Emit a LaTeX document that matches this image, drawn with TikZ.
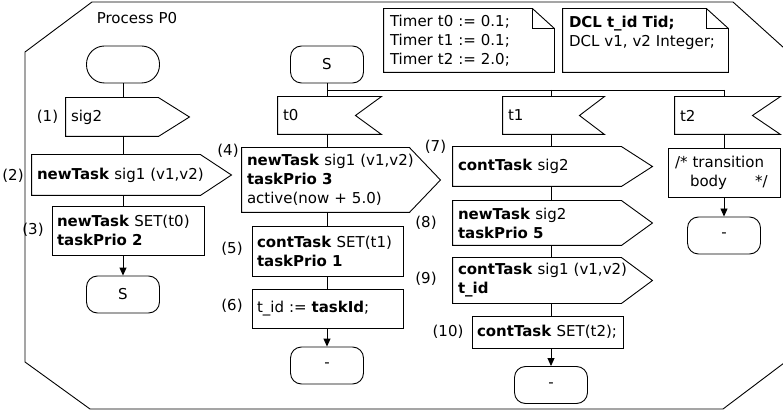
\documentclass[tikz,border=0pt]{standalone}
\usepackage{fontspec}
\setmainfont{DejaVu Sans}
\usetikzlibrary{arrows.meta,calc}
\begin{document}
\begin{tikzpicture}[x=1pt,y=-1pt, line width=0.9pt,
  base/.style={font=\fontsize{15}{19}\selectfont, inner sep=0pt},
  term/.style={base, draw, rounded corners=11pt, minimum width=73pt, minimum height=37pt},
  blk/.style={base, inner xsep=5pt, align=left},
  arr/.style={-{Triangle[length=8pt,width=7pt]}},
]
\useasboundingbox (0,0) rectangle (783,411);
% process frame
\draw (92,2) -- (733,2) -- (784,48) -- (784,363) -- (723,409) -- (90,409) -- (25,362) -- (25,52) -- cycle;
\node[base] (title) at (137,18) {Process P0};

% notes
\node[blk, inner xsep=6pt, text width=158pt, minimum height=63pt] (n1) at (469,40.5)
  {Timer t0 := 0.1;\\Timer t1 := 0.1;\\Timer t2 := 2.0;};
\node[blk, inner xsep=6pt, text width=153pt, minimum height=63pt] (n2) at (645.5,40.5)
  {\textbf{DCL t\_id Tid;}\\DCL v1, v2 Integer;\\\mbox{}};
\foreach \n in {n1,n2}{
  \draw (\n.north west) -- ([xshift=-22pt]\n.north east) -- ([yshift=-20pt]\n.north east) -- (\n.south east) -- (\n.south west) -- cycle;
  \draw ([xshift=-22pt]\n.north east) |- ([yshift=-20pt]\n.north east);
}

% column 1
\node[term, rounded corners=18pt] (st0) at (123,64.5) {};
\node[blk, text width=82pt, minimum height=38pt] (s1) at (112,117) {\mbox{sig2}};
\node[blk, text width=158pt, minimum height=40pt] (s2) at (116,175) {\mbox{\textbf{newTask} sig1 (v1,v2)}};
\node[blk, draw, text width=142pt, minimum height=49pt] (b3) at (128,230.5) {\mbox{\textbf{newTask} SET(t0)}\\\mbox{\textbf{taskPrio 2}}};
\node[term] (j1) at (123,294.5) {S};

% column 2
\node[term] (st1) at (327,64.5) {S};
\node[blk, text width=93pt, minimum height=37pt] (t0) at (329.5,115.5) {t0};
\node[blk, text width=157pt, minimum height=64pt] (s4) at (325.5,180) {\mbox{\textbf{newTask} sig1 (v1,v2)}\\\mbox{\textbf{taskPrio 3}}\\\mbox{active(now + 5.0)}};
\node[blk, draw, text width=141pt, minimum height=50pt] (b5) at (327.5,251) {\mbox{\textbf{contTask} SET(t1)}\\\mbox{\textbf{taskPrio 1}}};
\node[blk, draw, text width=141pt, minimum height=39pt] (b6) at (327.5,308.5) {\mbox{t\_id := \textbf{taskId};}};
\node[term] (j2) at (327,365.5) {-};

% column 3
\node[blk, text width=91pt, minimum height=37pt] (t1) at (553.5,115.5) {t1};
\node[blk, text width=158pt, minimum height=39pt] (s7) at (537,166.5) {\mbox{\textbf{contTask} sig2}};
\node[blk, text width=158pt, minimum height=44pt] (s8) at (537,223) {\mbox{\textbf{newTask} sig2}\\\mbox{\textbf{taskPrio 5}}};
\node[blk, text width=158pt, minimum height=45pt] (s9) at (537,280.5) {\mbox{\textbf{contTask} sig1 (v1,v2)}\\\mbox{\textbf{t\_id}}};
\node[blk, draw, text width=141pt, minimum height=32pt] (b10) at (547.5,332) {\mbox{\textbf{contTask} SET(t2);}};
\node[term] (j3) at (551,385) {-};

% column 4
\node[blk, text width=95pt, minimum height=37pt] (t2) at (727.5,115.5) {t2};
\node[blk, draw, inner xsep=7pt, text width=98pt, minimum height=49pt] (b11) at (724,172.5) {\mbox{/* transition}\\\mbox{\hspace*{15pt}body\hspace{28pt}*/}};
\node[term] (j4) at (724,235.5) {-};

% shapes outlines
\foreach \n in {s1,s2,s4,s7,s8,s9}
  \draw (\n.north west) -- (\n.north east) -- ([xshift=31pt]\n.east) -- (\n.south east) -- (\n.south west) -- cycle;
\foreach \n/\d in {t0/26,t1/25,t2/28}
  \draw (\n.north west) -- (\n.north east) -- ([xshift=-\d pt]\n.east) -- (\n.south east) -- (\n.south west) -- cycle;

% step labels
\node[base] (l1) at (47.5,117) {(1)};
\node[base] (l2) at (13,176) {(2)};
\node[base] (l3) at (33,230) {(3)};
\node[base] (l4) at (228,151) {(4)};
\node[base] (l5) at (232,249) {(5)};
\node[base] (l6) at (232,306) {(6)};
\node[base] (l7) at (435.5,147) {(7)};
\node[base] (l8) at (426,223) {(8)};
\node[base] (l9) at (426,279) {(9)};
\node[base] (l10) at (448,332) {(10)};

% connectors column 1
\draw (st0.south) -- (st0.south |- s1.north);
\draw (st0.south |- s1.south) -- (st0.south |- s2.north);
\draw (st0.south |- s2.south) -- (st0.south |- b3.north);
\draw[arr] (st0.south |- b3.south) -- (j1.north);

% branch
\coordinate (br) at (327,90);
\draw (st1.south) -- (br) -- (br -| j4);
\draw (br) -- (st1.south |- t0.north);
\draw (br -| j3) -- (j3 |- t1.north);
\draw (br -| j4) -- (j4 |- t2.north);

% column 2
\draw (st1.south |- t0.south) -- (st1.south |- s4.north);
\draw (st1.south |- s4.south) -- (st1.south |- b5.north);
\draw (st1.south |- b5.south) -- (st1.south |- b6.north);
\draw[arr] (st1.south |- b6.south) -- (j2.north);

% column 3
\draw (j3 |- t1.south) -- (j3 |- s7.north);
\draw (j3 |- s7.south) -- (j3 |- s8.north);
\draw (j3 |- s8.south) -- (j3 |- s9.north);
\draw (j3 |- s9.south) -- (j3 |- b10.north);
\draw[arr] (j3 |- b10.south) -- (j3.north);

% column 4
\draw (j4 |- t2.south) -- (j4 |- b11.north);
\draw[arr] (j4 |- b11.south) -- (j4.north);
\end{tikzpicture}
\end{document}
